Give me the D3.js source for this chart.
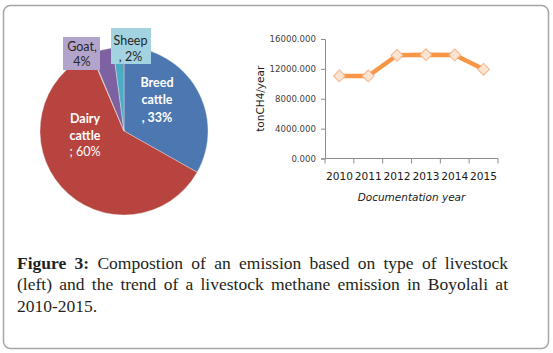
<!DOCTYPE html>
<html>
<head>
<meta charset="utf-8">
<script src="https://cdn.jsdelivr.net/npm/d3@7"></script>
<style>
  body { margin: 0; background: #fff; }
  svg { display: block; }
</style>
</head>
<body>
<div id="chart"></div>
<script>
// livestock share (pie)
var livestock = ["Breed cattle", "Dairy cattle", "Other", "Goat", "Sheep"];
var shares = [33.2, 60.4, 0.15, 4.2, 2.1];

// methane trend (line)
var years = ["2010", "2011", "2012", "2013", "2014", "2015"];
var methane = [11050, 11050, 13820, 13900, 13860, 11940];
var yTicks = [0, 4000, 8000, 12000, 16000];

var captionLines = [
  "Compostion of an emission based on type of livestock",
  "(left) and the trend of a livestock methane emission in Boyolali at",
  "2010-2015."
];

var W = 553, H = 353;

var svg = d3.select("#chart").append("svg")
    .attr("width", W)
    .attr("height", H);

// outer frame
svg.append("rect")
    .attr("x", 3.5).attr("y", 5.5)
    .attr("width", 545).attr("height", 343)
    .attr("rx", 7).attr("ry", 7)
    .attr("fill", "#fff")
    .attr("stroke", "#a6a6a6")
    .attr("stroke-width", 1.5);

/////////////////////////////////////////////////////////
// pie
/////////////////////////////////////////////////////////
var pieColors = ["#4d77b0", "#b8443f", "#9bbb59", "#7d61a0", "#4bacc6"];
var radius = 84;

var pieG = svg.append("g")
    .attr("transform", "translate(124,131)");

var pie = d3.pie().sort(null).value(function(d) { return d; });
var arc = d3.arc().innerRadius(0).outerRadius(radius);

pieG.selectAll("path.slice")
    .data(pie(shares))
  .enter().append("path")
    .attr("class", "slice")
    .attr("d", arc)
    .attr("fill", function(d, i) { return pieColors[i]; })
    .attr("stroke", "#e8e8e8")
    .attr("stroke-width", 0.4);

function lines(g, x, ys, texts, weights, color, size) {
  texts.forEach(function(t, i) {
    g.append("text")
        .attr("x", x).attr("y", ys[i])
        .attr("text-anchor", "middle")
        .style("font-family", "Lato, 'Open Sans', sans-serif")
        .style("font-size", size + "px")
        .style("font-weight", weights[i])
        .attr("fill", color)
        .text(t);
  });
}

// slice labels inside
lines(svg, 157, [86.5, 103.5, 121.5], ["Breed", "cattle", ", 33%"],
      ["bold", "bold", "bold"], "#fff", 12.5);
lines(svg, 85, [122.5, 139.5, 155.5], ["Dairy", "cattle", "; 60%"],
      ["bold", "bold", "normal"], "#fff", 12.5);

// boxed labels
svg.append("line")
    .attr("x1", 122).attr("x2", 122)
    .attr("y1", 64).attr("y2", 70)
    .attr("stroke", "#8c8c8c").attr("stroke-width", 0.8);

svg.append("rect")
    .attr("x", 63).attr("y", 37)
    .attr("width", 37).attr("height", 33)
    .attr("fill", "#b3a4cc");
lines(svg, 82, [51, 66], ["Goat,", "4%"], ["normal", "normal"], "#262626", 12.5);

svg.append("rect")
    .attr("x", 111).attr("y", 28)
    .attr("width", 40).attr("height", 36)
    .attr("fill", "#a3d3e0");
lines(svg, 130.5, [45, 61], ["Sheep", ", 2%"], ["normal", "normal"], "#262626", 12.5);

/////////////////////////////////////////////////////////
// line chart
/////////////////////////////////////////////////////////
var x = d3.scaleBand().domain(years).range([325, 498]);
var y = d3.scaleLinear().domain([0, 16000]).range([158.5, 39]);

var axisColor = "#8c8c8c";

// y axis
var yAxis = svg.append("g")
    .attr("transform", "translate(325,0)")
    .call(d3.axisLeft(y).tickValues(yTicks).tickSize(4).tickPadding(5)
          .tickFormat(d3.format(".3f")));
yAxis.select(".domain").attr("stroke", axisColor);
yAxis.selectAll(".tick line").attr("stroke", axisColor);
yAxis.selectAll(".tick text")
    .attr("fill", "#404040")
    .style("font-family", "'DejaVu Sans', sans-serif")
    .style("font-size", "8.6px");

// x axis: line, boundary ticks, labels at band centres
var xAxis = svg.append("g").attr("transform", "translate(0," + y(0) + ")");
xAxis.append("line")
    .attr("x1", x.range()[0]).attr("x2", x.range()[1])
    .attr("stroke", axisColor);
var bounds = years.map(function(d) { return x(d); }).concat([x.range()[1]]);
xAxis.selectAll("line.xt")
    .data(bounds)
  .enter().append("line")
    .attr("class", "xt")
    .attr("x1", function(d) { return d; })
    .attr("x2", function(d) { return d; })
    .attr("y1", 0).attr("y2", 5)
    .attr("stroke", axisColor);
xAxis.selectAll("text.yr")
    .data(years)
  .enter().append("text")
    .attr("class", "yr")
    .attr("x", function(d) { return x(d) + x.bandwidth() / 2; })
    .attr("y", 21.5)
    .attr("text-anchor", "middle")
    .attr("fill", "#1a1a1a")
    .style("font-family", "'DejaVu Sans', sans-serif")
    .style("font-size", "10.6px")
    .text(function(d) { return d; });

// axis titles
svg.append("text")
    .attr("transform", "translate(264," + ((y(0) + y(16000)) / 2) + ") rotate(-90)")
    .attr("text-anchor", "middle")
    .attr("fill", "#1a1a1a")
    .style("font-family", "'DejaVu Sans', sans-serif")
    .style("font-size", "10.5px")
    .text("tonCH4/year");

svg.append("text")
    .attr("x", (x.range()[0] + x.range()[1]) / 2)
    .attr("y", 200.5)
    .attr("text-anchor", "middle")
    .attr("fill", "#1a1a1a")
    .style("font-family", "'DejaVu Sans', sans-serif")
    .style("font-size", "10.5px")
    .style("font-style", "italic")
    .text("Documentation year");

var pts = years.map(function(d, i) { return [x(d) + x.bandwidth() / 2, y(methane[i])]; });

svg.append("path")
    .attr("d", d3.line()(pts))
    .attr("fill", "none")
    .attr("stroke", "#f79646")
    .attr("stroke-width", 4.5)
    .attr("stroke-linejoin", "round");

svg.selectAll("path.marker")
    .data(pts)
  .enter().append("path")
    .attr("class", "marker")
    .attr("d", d3.symbol(d3.symbolSquare, 70)())
    .attr("transform", function(d) { return "translate(" + d[0] + "," + d[1] + ") rotate(45)"; })
    .attr("fill", "#fde4d0")
    .attr("stroke", "#f3b489")
    .attr("stroke-width", 1);

/////////////////////////////////////////////////////////
// caption (justified)
/////////////////////////////////////////////////////////
var capLeft = 17, capRight = 508, capFont = 17.5;
var baselines = [268.5, 290, 311.5];

captionLines.forEach(function(line, li) {
  var words = line.split(" ").map(function(w) { return { t: w, b: false }; });
  if (li === 0) words = [{ t: "Figure", b: true }, { t: "3:", b: true }].concat(words);

  var nodes = words.map(function(w) {
    return svg.append("text")
        .attr("y", baselines[li])
        .attr("fill", "#231f20")
        .style("font-family", "'Liberation Serif', 'Times New Roman', serif")
        .style("font-size", capFont + "px")
        .style("font-weight", w.b ? "bold" : "normal")
        .text(w.t);
  });
  var widths = nodes.map(function(n) { return n.node().getComputedTextLength(); });
  var total = d3.sum(widths);
  var gap = li < 2 ? (capRight - capLeft - total) / (nodes.length - 1) : capFont * 0.25;
  var cx = capLeft;
  nodes.forEach(function(n, i) {
    n.attr("x", cx);
    cx += widths[i] + gap;
  });
});
</script>
</body>
</html>
